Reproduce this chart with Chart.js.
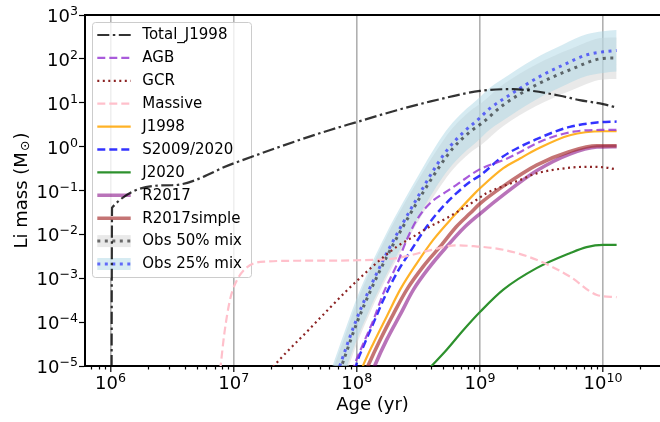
<!DOCTYPE html>
<html>
<head>
<meta charset="utf-8">
<script src="https://cdn.jsdelivr.net/npm/chart.js@4.4.1/dist/chart.umd.min.js"></script>
<style>
  html,body{margin:0;padding:0;background:#fff;}
  canvas{display:block;}
</style>
</head>
<body>
<canvas id="chart" width="660" height="422"></canvas>
<script>
// ===== data (log10 age in yr, log10 Li mass in Msun) =====
const ageTotal=[6.008,6.012,6.5,7.0,7.5,7.784,8.0,8.325,8.6,9.0,9.27,9.4,9.65,9.81,10.0,10.11];
const liTotal =[-6,-1.39,-0.88,-0.38,0.12,0.38,0.56,0.83,1.03,1.27,1.31,1.28,1.16,1.06,0.97,0.89];

const ageAGB=[7.96,7.987,8.054,8.135,8.216,8.325,8.406,8.487,8.595,8.73,8.81,8.99,9.23,9.52,9.76,10.0,10.11];
const liAGB =[-5.15,-4.93,-4.48,-3.95,-3.34,-2.69,-2.12,-1.67,-1.29,-1.02,-0.87,-0.53,-0.26,0.15,0.34,0.38,0.38];

const ageGCR=[7.32,7.387,7.608,7.786,7.919,8.054,8.19,8.325,8.46,8.595,8.73,8.866,8.974,9.054,9.19,9.325,9.46,9.70,9.866,10.0,10.11];
const liGCR =[-5.02,-4.81,-4.18,-3.66,-3.28,-2.92,-2.58,-2.28,-2.05,-1.82,-1.63,-1.40,-1.21,-1.06,-0.90,-0.76,-0.61,-0.49,-0.46,-0.47,-0.52];

const ageMassive=[6.89,6.925,6.97,7.015,7.1,7.25,7.6,8.0,8.325,8.6,8.8,8.95,9.19,9.46,9.73,9.95,10.11];
const liMassive =[-5.1,-4.24,-3.49,-3.11,-2.77,-2.62,-2.60,-2.59,-2.54,-2.36,-2.25,-2.27,-2.35,-2.58,-2.96,-3.38,-3.43];

const ageJ1998=[8.04,8.054,8.135,8.243,8.352,8.487,8.622,8.785,8.96,9.0,9.19,9.325,9.46,9.73,10.0,10.11];
const liJ1998 =[-5.07,-4.97,-4.48,-3.87,-3.26,-2.66,-2.12,-1.59,-1.06,-0.95,-0.49,-0.27,-0.06,0.26,0.35,0.35];

const ageS2009=[7.985,8.0,8.054,8.135,8.216,8.325,8.46,8.568,8.676,8.81,8.92,9.0,9.19,9.46,9.73,9.95,10.11];
const liS2009 =[-5.1,-4.93,-4.55,-4.02,-3.49,-2.88,-2.28,-1.82,-1.44,-1.06,-0.80,-0.66,-0.22,0.17,0.45,0.55,0.57];

const ageJ2020=[8.6,8.73,8.866,9.0,9.19,9.46,9.73,9.866,10.0,10.11];
const liJ2020 =[-5.02,-4.63,-4.18,-3.77,-3.26,-2.77,-2.43,-2.29,-2.24,-2.24];

const ageR2017=[8.135,8.149,8.243,8.352,8.46,8.595,8.73,8.866,9.0,9.19,9.46,9.73,9.95,10.11];
const liR2017 =[-5.07,-4.97,-4.40,-3.83,-3.26,-2.73,-2.28,-1.86,-1.53,-1.10,-0.55,-0.17,-0.01,0.0];

const ageR2017s=[8.08,8.095,8.19,8.30,8.406,8.54,8.676,8.81,8.92,9.0,9.19,9.46,9.73,9.95,10.11];
const liR2017s =[-5.07,-4.97,-4.40,-3.80,-3.26,-2.73,-2.28,-1.82,-1.52,-1.30,-0.90,-0.42,-0.11,0.02,0.02];

const ageObs50=[7.78,7.88,8.0,8.115,8.245,8.39,8.53,8.68,8.78,8.92,9.014,9.19,9.46,9.73,10.0,10.11];
const liObs50 =[-5.75,-4.97,-4.02,-3.26,-2.50,-1.75,-1.08,-0.42,-0.04,0.34,0.53,0.95,1.41,1.75,2.01,2.02];
const liObs50Hi=[-5.28,-4.50,-3.55,-2.79,-2.03,-1.28,-0.61,0.05,0.43,0.81,1.00,1.42,1.88,2.22,2.48,2.49];
const liObs50Lo=[-6.23,-5.45,-4.50,-3.74,-2.98,-2.23,-1.56,-0.90,-0.52,-0.14,0.05,0.47,0.93,1.27,1.53,1.54];

const ageObs25=[7.78,7.865,7.986,8.10,8.23,8.373,8.509,8.649,8.744,8.871,8.974,9.081,9.243,9.487,9.676,9.866,10.0,10.11];
const liObs25 =[-5.65,-4.97,-4.02,-3.26,-2.50,-1.75,-1.08,-0.42,-0.04,0.34,0.59,0.87,1.18,1.60,1.86,2.09,2.16,2.19];
const liObs25Hi=[-5.18,-4.50,-3.55,-2.79,-2.03,-1.28,-0.61,0.05,0.43,0.81,1.06,1.34,1.65,2.07,2.33,2.56,2.63,2.66];
const liObs25Lo=[-6.13,-5.45,-4.50,-3.74,-2.98,-2.23,-1.56,-0.90,-0.52,-0.14,0.11,0.39,0.70,1.12,1.38,1.61,1.68,1.71];

// tick labels are drawn as 10 + superscript exponent
const xTickPowers=[6,7,8,9,10];
const xTickExps=['6','7','8','9','10'];
const yTickPowers=[3,2,1,0,-1,-2,-3,-4,-5];
const yTickExps=['3','2','1','0','−1','−2','−3','−4','−5'];

const legendOrder=['Total_J1998','AGB','GCR','Massive','J1998','S2009/2020','J2020','R2017','R2017simple','Obs 50% mix','Obs 25% mix'];

// ===== helpers =====
const FONT='"DejaVu Sans", sans-serif';
Chart.defaults.font.family=FONT; Chart.defaults.font.size=15; Chart.defaults.color='#000';
const pts=(a,m)=>a.map((v,i)=>({x:Math.pow(10,v),y:Math.pow(10,m[i])}));
let xMinor=[]; for(let e=5;e<=10;e++) for(let k=2;k<=9;k++){const v=k*Math.pow(10,e); if(v>6.2e5&&v<2.9e10) xMinor.push(v);}

function line(label,a,m,color,width,dash,order){
  return {label,data:pts(a,m),borderColor:color,borderWidth:width,borderDash:dash,fill:false,order,pointRadius:0};
}

const datasets=[
  {label:'_obs50lo',data:pts(ageObs50,liObs50Lo),borderWidth:0,fill:false,order:31},
  {label:'_obs50hi',data:pts(ageObs50,liObs50Hi),borderWidth:0,fill:'-1',backgroundColor:'rgba(211,211,211,0.5)',order:30},
  {label:'_obs25lo',data:pts(ageObs25,liObs25Lo),borderWidth:0,fill:false,order:29},
  {label:'_obs25hi',data:pts(ageObs25,liObs25Hi),borderWidth:0,fill:'-1',backgroundColor:'rgba(173,216,230,0.5)',order:28},
  Object.assign(line('Obs 50% mix',ageObs50,liObs50,'rgba(0,0,0,0.55)',3,[3,4.5],12),{band:'rgba(211,211,211,0.5)'}),
  Object.assign(line('Obs 25% mix',ageObs25,liObs25,'rgba(0,0,255,0.55)',3,[3,4.5],11),{band:'rgba(173,216,230,0.5)'}),
  line('R2017',ageR2017,liR2017,'rgba(128,0,128,0.55)',3.6,[],10),
  line('R2017simple',ageR2017s,liR2017s,'rgba(165,42,42,0.65)',3.6,[],9),
  line('J2020',ageJ2020,liJ2020,'rgb(45,145,45)',2.2,[],8),
  line('S2009/2020',ageS2009,liS2009,'rgba(0,0,255,0.8)',2.5,[8,4],7),
  line('J1998',ageJ1998,liJ1998,'rgba(255,165,0,0.85)',2.2,[],6),
  line('Massive',ageMassive,liMassive,'pink',2.2,[8,4],5),
  line('GCR',ageGCR,liGCR,'rgb(140,35,35)',2.2,[2,3.5],4),
  line('AGB',ageAGB,liAGB,'rgba(148,50,210,0.8)',2.2,[8,4],3),
  line('Total_J1998',ageTotal,liTotal,'rgba(0,0,0,0.8)',2.2,[12,3.5,2.5,3.5],1)
];

function powLabel(ctx,exp,x,y,align){
  ctx.font='18px '+FONT; const wb=ctx.measureText('10').width;
  ctx.font='12.6px '+FONT; const we=ctx.measureText(exp).width;
  const left=align==='right'?x-wb-we:x-(wb+we)/2;
  ctx.font='18px '+FONT; ctx.fillText('10',left,y);
  ctx.font='12.6px '+FONT; ctx.fillText(exp,left+wb,y-7);
}

// legend box (under the lines, over the grid), tick labels, top spine
const decor={
  id:'decor',
  beforeDatasetsDraw(chart){
    const ctx=chart.ctx, a=chart.chartArea;
    const x0=a.left+7.5, y0=a.top+7.5, w=159, h=255, r=3;
    ctx.save();
    ctx.beginPath();
    ctx.moveTo(x0+r,y0); ctx.arcTo(x0+w,y0,x0+w,y0+h,r); ctx.arcTo(x0+w,y0+h,x0,y0+h,r);
    ctx.arcTo(x0,y0+h,x0,y0,r); ctx.arcTo(x0,y0,x0+w,y0,r); ctx.closePath();
    ctx.fillStyle='rgba(255,255,255,0.8)'; ctx.fill();
    ctx.lineWidth=1; ctx.strokeStyle='#cccccc'; ctx.stroke();
    ctx.font='15px '+FONT; ctx.textBaseline='middle'; ctx.textAlign='left';
    legendOrder.forEach((lab,i)=>{
      const ds=chart.data.datasets.find(d=>d.label===lab);
      const cy=y0+12.5+i*22.9, sx=x0+4.8, sw=33.4;
      if(ds.band){ ctx.fillStyle=ds.band; ctx.fillRect(sx,cy-6,sw,12); }
      ctx.beginPath(); ctx.setLineDash(ds.borderDash||[]); ctx.lineWidth=ds.borderWidth; ctx.strokeStyle=ds.borderColor;
      ctx.moveTo(sx,cy); ctx.lineTo(sx+sw,cy); ctx.stroke();
      ctx.setLineDash([]); ctx.fillStyle='#000'; ctx.fillText(lab,x0+49.8,cy+0.5);
    });
    ctx.restore();
  },
  afterDraw(chart){
    const ctx=chart.ctx, a=chart.chartArea, xs=chart.scales.x, ys=chart.scales.y;
    ctx.save();
    ctx.strokeStyle='#000'; ctx.lineWidth=2;
    ctx.beginPath(); ctx.moveTo(a.left-1,a.top); ctx.lineTo(a.right,a.top); ctx.stroke();
    ctx.lineWidth=1.2;
    xMinor.forEach(v=>{ const px=Math.round(xs.getPixelForValue(v))+0.5; ctx.beginPath(); ctx.moveTo(px,a.bottom); ctx.lineTo(px,a.bottom+3.5); ctx.stroke(); });
    ctx.fillStyle='#000'; ctx.textBaseline='alphabetic'; ctx.textAlign='left';
    xTickPowers.forEach((p,i)=>powLabel(ctx,xTickExps[i],xs.getPixelForValue(Math.pow(10,p)),a.bottom+23,'center'));
    yTickPowers.forEach((p,i)=>powLabel(ctx,yTickExps[i],a.left-7,ys.getPixelForValue(Math.pow(10,p))+7,'right'));
    // y axis title with subscript sun symbol
    ctx.translate(22,(a.top+a.bottom)/2); ctx.rotate(-Math.PI/2);
    ctx.font='18px '+FONT; const t1='Li mass (M', w1=ctx.measureText(t1).width, w3=ctx.measureText(')').width;
    ctx.font='12.6px '+FONT; const w2=ctx.measureText('⊙').width+2;
    const start=-(w1+w2+w3)/2; ctx.textBaseline='middle';
    ctx.font='18px '+FONT; ctx.fillText(t1,start,0); ctx.fillText(')',start+w1+w2,0);
    ctx.font='12.6px '+FONT; ctx.fillText('⊙',start+w1+1,4);
    ctx.restore();
  }
};

new Chart(document.getElementById('chart'),{
  type:'line',
  data:{datasets},
  options:{
    responsive:false, animation:false, devicePixelRatio:1,
    layout:{padding:{top:15,right:0,left:0,bottom:0}},
    elements:{point:{radius:0},line:{cubicInterpolationMode:'monotone'}},
    plugins:{legend:{display:false},tooltip:{enabled:false}},
    scales:{
      x:{
        type:'logarithmic', min:6.2e5, max:2.9e10,
        afterBuildTicks:s=>{ s.ticks=xTickPowers.map(p=>({value:Math.pow(10,p)})); },
        afterFit:s=>{ s.height=56; },
        ticks:{autoSkip:false,maxRotation:0,callback:()=>''},
        grid:{drawOnChartArea:true,color:'#b0b0b0',lineWidth:1.6,tickLength:6,tickColor:'#000',tickWidth:1.2},
        border:{display:true,color:'#000',width:2},
        title:{display:true,text:'Age (yr)',font:{size:18},padding:{top:0,bottom:6}}
      },
      y:{
        type:'logarithmic', min:1e-5, max:1e3,
        afterBuildTicks:s=>{ s.ticks=yTickPowers.map(p=>({value:Math.pow(10,p)})); },
        afterFit:s=>{ s.width=85; },
        ticks:{autoSkip:false,callback:()=>''},
        grid:{drawOnChartArea:false,tickLength:6,tickColor:'#000',tickWidth:1.2},
        border:{display:true,color:'#000',width:2}
      }
    }
  },
  plugins:[decor]
});
</script>
</body>
</html>
